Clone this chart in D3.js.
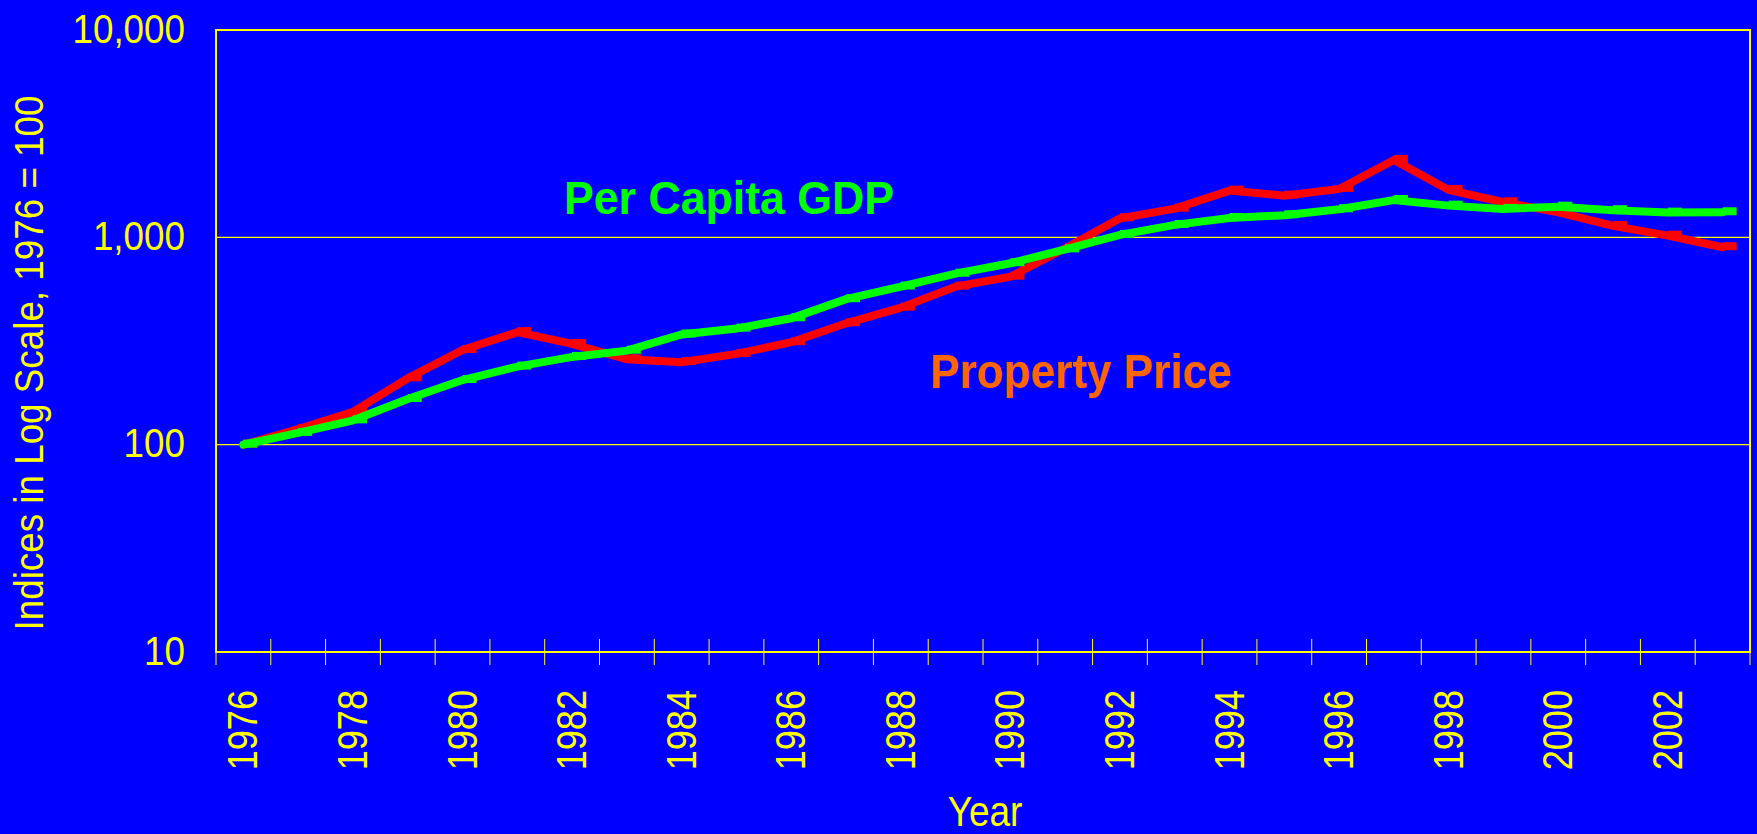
<!DOCTYPE html>
<html>
<head>
<meta charset="utf-8">
<script src="https://cdn.jsdelivr.net/npm/d3@7/dist/d3.min.js"></script>
<style>
  html, body { margin: 0; padding: 0; background: #0000FF; }
  svg { display: block; }
  text { font-family: "Liberation Sans", Arial, sans-serif; }
</style>
</head>
<body>
<svg id="chart" width="1757" height="834"></svg>
<script>
// ---- data ----
const years = d3.range(1976, 2004);
const propertyPrice = [100, 119, 144, 209, 286, 349, 306, 258, 250, 274, 312, 385, 458, 579, 646, 886, 1236, 1375, 1680, 1589, 1712, 2362, 1693, 1476, 1321, 1135, 1019, 896];
const perCapitaGDP = [100, 114, 131, 166, 205, 238, 265, 284, 340, 363, 407, 503, 579, 668, 750, 875, 1027, 1148, 1240, 1278, 1366, 1514, 1422, 1371, 1406, 1351, 1316, 1321];
const yTickValues = [10, 100, 1000, 10000];
const xTickLabels = years.filter(y => y % 2 === 0);
const yTitle = "Indices in Log Scale, 1976 = 100";
const xTitle = "Year";
const seriesNames = ["Property Price", "Per Capita GDP"];

// ---- layout ----
const plotLeft = 216, plotRight = 1750, plotTop = 30, plotBottom = 652;
const YELLOW = "#FFFF00";

const svg = d3.select("#chart");
svg.append("rect").attr("width", 1757).attr("height", 834).attr("fill", "#0000FF");

const x = d3.scaleBand().domain(years).range([plotLeft, plotRight]).padding(0);
const y = d3.scaleLog().domain([10, 10000]).range([plotBottom, plotTop]);
const cx = d => x(d) + x.bandwidth() / 2;

function condense(sel, f) {
  sel.each(function () {
    const L = this.getComputedTextLength();
    d3.select(this).attr("textLength", L * f).attr("lengthAdjust", "spacingAndGlyphs");
  });
}

// gridlines
svg.append("g").selectAll("line").data(yTickValues.filter(v => v > 10 && v < 10000)).join("line")
  .attr("x1", plotLeft).attr("x2", plotRight)
  .attr("y1", d => y(d)).attr("y2", d => y(d))
  .attr("stroke", YELLOW).attr("stroke-width", 1.3);

// frame
svg.append("rect").attr("x", plotLeft).attr("y", plotTop).attr("width", plotRight - plotLeft).attr("height", plotBottom - plotTop)
  .attr("fill", "none").attr("stroke", YELLOW).attr("stroke-width", 2);

// x tick marks at category boundaries
const bounds = years.map(d => x(d)).concat([plotRight]);
svg.append("g").selectAll("line").data(bounds).join("line")
  .attr("x1", d => d).attr("x2", d => d)
  .attr("y1", plotBottom - 13).attr("y2", plotBottom + 13)
  .attr("stroke", YELLOW).attr("stroke-width", 1);

// y axis labels
const yAxis = svg.append("g").attr("transform", `translate(${plotLeft},0)`)
  .call(d3.axisLeft(y).tickValues(yTickValues).tickFormat(d3.format(",")).tickSize(0).tickPadding(31));
yAxis.select(".domain").remove();
yAxis.selectAll("text").attr("fill", YELLOW).attr("font-size", 40).attr("dy", "0.3em")
  .style("font-family", "'Liberation Sans', Arial, sans-serif");
condense(yAxis.selectAll("text"), 0.92);

// x axis labels
const xAxis = svg.append("g").attr("transform", `translate(0,${plotBottom})`)
  .call(d3.axisBottom(x).tickValues(xTickLabels).tickSize(0));
xAxis.select(".domain").remove();
xAxis.selectAll("text")
  .attr("x", 0).attr("y", 0).attr("dy", 0)
  .attr("transform", "translate(14,38) rotate(-90)")
  .attr("text-anchor", "end")
  .attr("fill", YELLOW).attr("font-size", 42)
  .style("font-family", "'Liberation Sans', Arial, sans-serif");
condense(xAxis.selectAll("text"), 0.86);

// axis titles
const yt = svg.append("text").text(yTitle)
  .attr("transform", `translate(42.5,${(plotTop + plotBottom) / 2 + 22}) rotate(-90)`)
  .attr("text-anchor", "middle").attr("fill", YELLOW).attr("font-size", 40);
condense(yt, 0.92);
const xt = svg.append("text").text(xTitle)
  .attr("x", (plotLeft + plotRight) / 2 + 2).attr("y", 826)
  .attr("text-anchor", "middle").attr("fill", YELLOW).attr("font-size", 42);
condense(xt, 0.88);

// lines
const line = d3.line().x((d, i) => cx(years[i])).y(d => y(d));
const series = [
  { name: seriesNames[0], values: propertyPrice, color: "#FF0000" },
  { name: seriesNames[1], values: perCapitaGDP, color: "#00FF00" }
];
series.forEach(s => {
  svg.append("path").datum(s.values).attr("d", line)
    .attr("fill", "none").attr("stroke", s.color).attr("stroke-width", 8)
    .attr("stroke-linejoin", "miter").attr("stroke-linecap", "round");
  svg.append("g").selectAll("rect").data(s.values).join("rect")
    .attr("x", (d, i) => cx(years[i]))
    .attr("y", d => y(d) - 5)
    .attr("width", 14).attr("height", 8)
    .attr("fill", s.color);
});

// series labels
const g1 = svg.append("text").text(seriesNames[1])
  .attr("x", 564).attr("y", 214).attr("fill", "#00FF00")
  .attr("font-size", 47).attr("font-weight", "bold");
condense(g1, 0.95);
const g2 = svg.append("text").text(seriesNames[0])
  .attr("x", 930).attr("y", 388).attr("fill", "#FF6600")
  .attr("font-size", 49).attr("font-weight", "bold");
condense(g2, 0.9);
</script>
</body>
</html>
